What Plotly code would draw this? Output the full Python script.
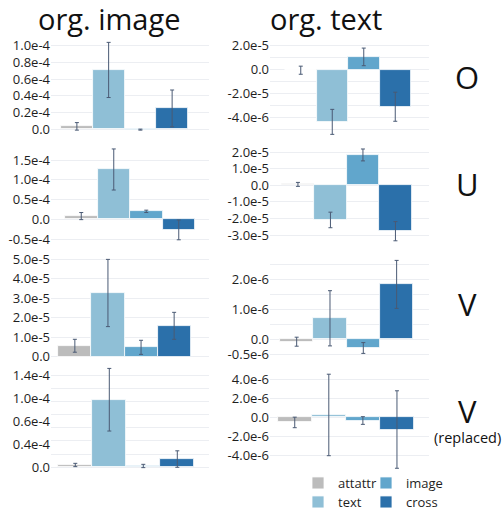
import plotly.graph_objects as go

# ---------------- data ----------------
categories = ["attattr", "text", "image", "cross"]
colors = ["#bcbcbc", "#8fbfd6", "#61a6cc", "#2b70aa"]

# left column (org. image)
O_image_mean = [0.035e-4, 0.71e-4, -0.004e-4, 0.25e-4]
O_image_err = [0.045e-4, 0.33e-4, 0.006e-4, 0.22e-4]
U_image_mean = [0.08e-4, 1.26e-4, 0.20e-4, -0.27e-4]
U_image_err = [0.09e-4, 0.52e-4, 0.03e-4, 0.25e-4]
V_image_mean = [0.56e-5, 3.26e-5, 0.48e-5, 1.58e-5]
V_image_err = [0.33e-5, 1.72e-5, 0.36e-5, 0.69e-5]
Vr_image_mean = [0.035e-4, 1.025e-4, 0.02e-4, 0.125e-4]
Vr_image_err = [0.025e-4, 0.475e-4, 0.025e-4, 0.125e-4]

# right column (org. text)
O_text_mean = [-0.06e-5, -4.4e-5, 1.06e-5, -3.13e-5]
O_text_err = [0.34e-5, 1.05e-5, 0.74e-5, 1.22e-5]
U_text_mean = [0.06e-5, -2.09e-5, 1.84e-5, -2.77e-5]
U_text_err = [0.12e-5, 0.47e-5, 0.36e-5, 0.58e-5]
V_text_mean = [-0.08e-6, 0.70e-6, -0.29e-6, 1.83e-6]
V_text_err = [0.15e-6, 0.92e-6, 0.18e-6, 0.80e-6]
Vr_text_mean = [-0.53e-6, 0.25e-6, -0.33e-6, -1.27e-6]
Vr_text_err = [0.55e-6, 4.25e-6, 0.40e-6, 4.04e-6]

# tick labels (as printed on the original) and gridlines
O_image_tickvals = [0, 0.2e-4, 0.4e-4, 0.6e-4, 0.8e-4, 1.0e-4]
O_image_ticktext = ["0.0", "0.2e-4", "0.4e-4", "0.6e-4", "0.8e-4", "1.0e-4"]
O_image_grid = O_image_tickvals
U_image_tickvals = [-0.5e-4, 0, 0.5e-4, 1.0e-4, 1.5e-4]
U_image_ticktext = ["-0.5e-4", "0.0", "0.5e-4", "1.0e-4", "1.5e-4"]
U_image_grid = U_image_tickvals
V_image_tickvals = [0, 1e-5, 2e-5, 3e-5, 4e-5, 5e-5]
V_image_ticktext = ["0.0", "1.0e-5", "2.0e-5", "3.0e-5", "4.0e-5", "5.0e-5"]
V_image_grid = V_image_tickvals
Vr_image_tickvals = [0, 0.35e-4, 0.70e-4, 1.05e-4, 1.4e-4]
Vr_image_ticktext = ["0.0", "0.4e-4", "0.6e-4", "1.0e-4", "1.4e-4"]
Vr_image_grid = [0, 0.2e-4, 0.4e-4, 0.6e-4, 0.8e-4, 1.0e-4, 1.2e-4, 1.4e-4]

O_text_tickvals = [-4e-5, -2e-5, 0, 2e-5]
O_text_ticktext = ["-4.0e-6", "-2.0e-5", "0.0", "2.0e-5"]
O_text_grid = [-5e-5, -4e-5, -3e-5, -2e-5, -1e-5, 0, 1e-5, 2e-5]
U_text_tickvals = [-3e-5, -2e-5, -1e-5, 0, 1e-5, 2e-5]
U_text_ticktext = ["-3.0e-5", "-2.0e-5", "-1.0e-5", "0.0", "1.0e-5", "2.0e-5"]
U_text_grid = U_text_tickvals
V_text_tickvals = [-0.5e-6, 0, 1e-6, 2e-6]
V_text_ticktext = ["-0.5e-6", "0.0", "1.0e-6", "2.0e-6"]
V_text_grid = [-0.5e-6, 0, 0.5e-6, 1e-6, 1.5e-6, 2e-6, 2.5e-6]
Vr_text_tickvals = [-4e-6, -2e-6, 0, 2e-6, 4e-6]
Vr_text_ticktext = ["-4.0e-6", "-2.0e-6", "0.0", "2.0e-6", "4.0e-6"]
Vr_text_grid = Vr_text_tickvals

col_titles = ["org. image", "org. text"]
row_labels = ["O", "U", "V", "V"]
row_note = "(replaced)"

# ---------------- layout helpers ----------------
W, H = 504, 510
FONT = "Open Sans, Noto Sans, sans-serif"

panels = [
    # means, errs, tickvals, ticktext, grid, (va, pa, vb, pb), (dom_top, dom_bot), (xd0, xd1), (b0, b1)
    (O_image_mean, O_image_err, O_image_tickvals, O_image_ticktext, O_image_grid,
     (0, 129.3, 1e-4, 45.7), (37, 137), (51, 209), (61, 188)),
    (U_image_mean, U_image_err, U_image_tickvals, U_image_ticktext, U_image_grid,
     (-0.5e-4, 239, 1.5e-4, 160), (144, 243), (51, 209), (65, 195)),
    (V_image_mean, V_image_err, V_image_tickvals, V_image_ticktext, V_image_grid,
     (0, 356.7, 5e-5, 259), (254, 361), (51, 209), (58.3, 190.7)),
    (Vr_image_mean, Vr_image_err, Vr_image_tickvals, Vr_image_ticktext, Vr_image_grid,
     (0, 467.3, 1.4e-4, 375), (364, 472), (51, 209), (58.3, 194.3)),
    (O_text_mean, O_text_err, O_text_tickvals, O_text_ticktext, O_text_grid,
     (-5e-5, 129, 2e-5, 45.7), (38, 137), (270, 429), (285, 411)),
    (U_text_mean, U_text_err, U_text_tickvals, U_text_ticktext, U_text_grid,
     (-3e-5, 235, 2e-5, 152.3), (144, 242), (270, 429), (281.7, 411.7)),
    (V_text_mean, V_text_err, V_text_tickvals, V_text_ticktext, V_text_grid,
     (-0.5e-6, 354.3, 2.5e-6, 264.3), (256, 361), (270, 429), (280, 413.3)),
    (Vr_text_mean, Vr_text_err, Vr_text_tickvals, Vr_text_ticktext, Vr_text_grid,
     (-4e-6, 455.7, 4e-6, 379), (368, 472), (270, 429), (277.7, 414)),
]

# one legend box per entry so the 2x2 arrangement can be reproduced
legend_ids = {"attattr": "legend", "text": "legend2", "image": "legend3", "cross": "legend4"}
legend_pos = {"attattr": (318, 483), "text": (318, 502), "image": (386, 483), "cross": (386, 502)}

fig = go.Figure()
layout_axes = {}
for i, (means, errs, tv, tt, grid, cal, dom, xd, bb) in enumerate(panels):
    n = i + 1
    xa = "x" if n == 1 else f"x{n}"
    ya = "y" if n == 1 else f"y{n}"
    for j, cat in enumerate(categories):
        fig.add_trace(go.Bar(
            x=[0], y=[means[j]], name=cat,
            marker=dict(color=colors[j], line=dict(color="white", width=0.8)),
            error_y=dict(type="data", array=[errs[j]], color="#4a5a74", thickness=1, width=2),
            xaxis=xa, yaxis=ya, showlegend=(n == 1), legendgroup=cat,
            legend=legend_ids[cat], offsetgroup=str(j),
        ))
    va, pa, vb, pb = cal
    s = (pa - pb) / (vb - va)
    top, bot = dom
    yr = [va - (bot - pa) / s, va + (pa - top) / s]
    b0, b1 = bb
    x0, x1 = xd
    bw = b1 - b0
    xr = [-0.5 - (b0 - x0) / bw, 0.5 + (x1 - b1) / bw]
    layout_axes["xaxis" if n == 1 else f"xaxis{n}"] = dict(
        domain=[x0 / W, x1 / W], range=xr, anchor=ya, visible=False, fixedrange=True)
    layout_axes["yaxis" if n == 1 else f"yaxis{n}"] = dict(
        domain=[1 - bot / H, 1 - top / H], range=yr, anchor=xa, automargin=False,
        tickmode="array", tickvals=tv, ticktext=tt, showgrid=False, zeroline=False,
        showline=False, ticks="", ticklabelstandoff=0, fixedrange=True,
        tickfont=dict(family=FONT, size=13, color="#1e1e1e"),
        minor=dict(tickmode="array", tickvals=grid, showgrid=True, gridcolor="#eceef2",
                   gridwidth=1, ticks=""),
    )


def ann(text, px, py, size):
    return dict(text=text, x=px / W, y=1 - py / H, xref="paper", yref="paper",
                xanchor="center", yanchor="middle", showarrow=False,
                font=dict(family=FONT, size=size, color="#111"))


annotations = [ann(col_titles[0], 109, 19, 29), ann(col_titles[1], 326, 19, 29)]
row_y = [77, 184, 304, 411]
for lab, ry in zip(row_labels, row_y):
    annotations.append(ann(lab, 467, ry, 31))
annotations.append(ann(row_note, 467.5, 437, 14.5))

legends = {}
for cat in categories:
    sx, sy = legend_pos[cat]
    legends[legend_ids[cat]] = dict(
        x=(sx - 20) / W, y=1 - sy / H, xanchor="left", yanchor="middle",
        bgcolor="rgba(0,0,0,0)", borderwidth=0, itemwidth=30,
        font=dict(family=FONT, size=13, color="#1e1e1e"))

fig.update_layout(
    width=W, height=H, margin=dict(l=0, r=0, t=0, b=0, autoexpand=False),
    paper_bgcolor="white", plot_bgcolor="white",
    barmode="group", bargap=0, bargroupgap=0,
    hovermode=False,
    annotations=annotations,
    **legends,
    **layout_axes,
)

fig.write_html("out.html", config={"displayModeBar": False, "staticPlot": False},
               post_script="document.body.style.margin='0';")
